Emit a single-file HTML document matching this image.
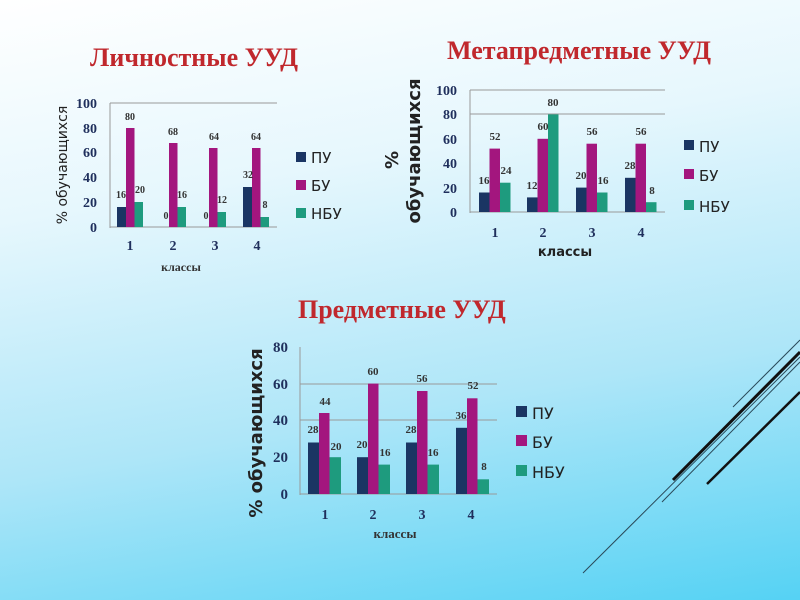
<!DOCTYPE html>
<html><head><meta charset="utf-8"><style>
html,body{margin:0;padding:0}
body{width:800px;height:600px;overflow:hidden;background:linear-gradient(170deg,#ffffff 0%,#e6f7fd 30%,#aee6f8 65%,#55d2f4 100%);}
svg{display:block}
.t{font-family:"Liberation Serif",serif;font-weight:bold;fill:#c0282d;font-size:26px}
.n{font-family:"Liberation Serif",serif;font-weight:bold;fill:#1f2f5c;font-size:14px}
.v{font-family:"Liberation Serif",serif;font-weight:bold;fill:#333;font-size:10px}
.l{font-family:"DejaVu Sans","Liberation Sans",sans-serif;fill:#222;font-size:15px}
.ax{font-family:"DejaVu Sans","Liberation Sans",sans-serif;font-weight:bold;fill:#222;font-size:14px}
</style></head><body>
<svg width="800" height="600" xmlns="http://www.w3.org/2000/svg">
<text class="t" x="90" y="66">Личностные УУД</text>
<text class="t" x="447" y="59">Метапредметные УУД</text>
<text class="t" x="298" y="318">Предметные УУД</text>

<!-- Chart 1 -->
<g>
<line x1="110" y1="103" x2="277" y2="103" stroke="#999" stroke-width="1"/>
<line x1="110" y1="103" x2="110" y2="228" stroke="#999"/>
<line x1="110" y1="227" x2="277" y2="227" stroke="#999"/>
<g class="n" text-anchor="end">
<text x="97" y="108">100</text><text x="97" y="133">80</text><text x="97" y="157">60</text><text x="97" y="182">40</text><text x="97" y="207">20</text><text x="97" y="232">0</text>
</g>
<rect x="117" y="207" width="9" height="20" fill="#1a3563"/><rect x="126" y="128" width="8.5" height="99" fill="#a3167e"/><rect x="134.5" y="202" width="8.5" height="25" fill="#1e9b7e"/>
<rect x="169" y="143" width="8.5" height="84" fill="#a3167e"/><rect x="177.5" y="207" width="8.5" height="20" fill="#1e9b7e"/>
<rect x="209" y="148" width="8.5" height="79" fill="#a3167e"/><rect x="217.5" y="212" width="8.5" height="15" fill="#1e9b7e"/>
<rect x="243" y="187" width="9" height="40" fill="#1a3563"/><rect x="252" y="148" width="8.5" height="79" fill="#a3167e"/><rect x="260.5" y="217" width="8.5" height="10" fill="#1e9b7e"/>
<g class="v" text-anchor="middle">
<text x="121" y="198">16</text><text x="130" y="120">80</text><text x="140" y="193">20</text>
<text x="166" y="219">0</text><text x="173" y="135">68</text><text x="182" y="198">16</text>
<text x="206" y="219">0</text><text x="214" y="140">64</text><text x="222" y="203">12</text>
<text x="248" y="178">32</text><text x="256" y="140">64</text><text x="265" y="208">8</text>
</g>
<g class="n" text-anchor="middle"><text x="130" y="250">1</text><text x="173" y="250">2</text><text x="215" y="250">3</text><text x="257" y="250">4</text></g>
<text x="181" y="271" text-anchor="middle" style="font-family:'Liberation Serif',serif;font-weight:bold;font-size:12px;fill:#333">классы</text>
<text class="ax" transform="translate(67,165) rotate(-90)" text-anchor="middle" style="font-size:14px;font-weight:normal">% обучающихся</text>
<rect x="296" y="152" width="10" height="10" fill="#1a3563"/><text class="l" x="311" y="163">ПУ</text>
<rect x="296" y="180" width="10" height="10" fill="#a3167e"/><text class="l" x="311" y="191">БУ</text>
<rect x="296" y="208" width="10" height="10" fill="#1e9b7e"/><text class="l" x="311" y="219">НБУ</text>
</g>

<!-- Chart 2 -->
<g>
<line x1="470" y1="90" x2="665" y2="90" stroke="#999"/>
<line x1="470" y1="114" x2="665" y2="114" stroke="#999"/>
<line x1="470" y1="90" x2="470" y2="213" stroke="#999"/>
<line x1="470" y1="212" x2="665" y2="212" stroke="#999"/>
<g class="n" text-anchor="end">
<text x="457" y="95">100</text><text x="457" y="119">80</text><text x="457" y="144">60</text><text x="457" y="168">40</text><text x="457" y="193">20</text><text x="457" y="217">0</text>
</g>
<rect x="479" y="192.5" width="10.5" height="19.5" fill="#1a3563"/><rect x="489.5" y="148.6" width="10.5" height="63.4" fill="#a3167e"/><rect x="500" y="182.7" width="10.5" height="29.3" fill="#1e9b7e"/>
<rect x="527" y="197.4" width="10.5" height="14.6" fill="#1a3563"/><rect x="537.5" y="138.8" width="10.5" height="73.2" fill="#a3167e"/><rect x="548" y="114.4" width="10.5" height="97.6" fill="#1e9b7e"/>
<rect x="576" y="187.6" width="10.5" height="24.4" fill="#1a3563"/><rect x="586.5" y="143.7" width="10.5" height="68.3" fill="#a3167e"/><rect x="597" y="192.5" width="10.5" height="19.5" fill="#1e9b7e"/>
<rect x="625" y="177.8" width="10.5" height="34.2" fill="#1a3563"/><rect x="635.5" y="143.7" width="10.5" height="68.3" fill="#a3167e"/><rect x="646" y="202.2" width="10.5" height="9.8" fill="#1e9b7e"/>
<g class="v" text-anchor="middle" style="font-size:11px">
<text x="484" y="184">16</text><text x="495" y="140">52</text><text x="506" y="174">24</text>
<text x="532" y="189">12</text><text x="543" y="130">60</text><text x="553" y="106">80</text>
<text x="581" y="179">20</text><text x="592" y="135">56</text><text x="603" y="184">16</text>
<text x="630" y="169">28</text><text x="641" y="135">56</text><text x="652" y="194">8</text>
</g>
<g class="n" text-anchor="middle"><text x="495" y="237">1</text><text x="543" y="237">2</text><text x="592" y="237">3</text><text x="641" y="237">4</text></g>
<text class="ax" x="565" y="256" text-anchor="middle" style="font-size:13px">классы</text>
<text class="ax" transform="translate(398,160) rotate(-90)" text-anchor="middle" style="font-size:18px">%</text>
<text class="ax" transform="translate(420,151) rotate(-90)" text-anchor="middle" style="font-size:18px">обучающихся</text>
<rect x="684" y="140" width="10" height="10" fill="#1a3563"/><text class="l" x="699" y="152">ПУ</text>
<rect x="684" y="169" width="10" height="10" fill="#a3167e"/><text class="l" x="699" y="181">БУ</text>
<rect x="684" y="200" width="10" height="10" fill="#1e9b7e"/><text class="l" x="699" y="212">НБУ</text>
</g>

<!-- Chart 3 -->
<g>
<line x1="300" y1="384" x2="497" y2="384" stroke="#999"/>
<line x1="300" y1="420" x2="497" y2="420" stroke="#999"/>
<line x1="300" y1="347" x2="300" y2="495" stroke="#999"/>
<line x1="300" y1="494" x2="497" y2="494" stroke="#999"/>
<g class="n" text-anchor="end" style="font-size:15px">
<text x="288" y="352">80</text><text x="288" y="389">60</text><text x="288" y="425">40</text><text x="288" y="462">20</text><text x="288" y="499">0</text>
</g>
<rect x="308" y="442.5" width="11" height="51.5" fill="#1a3563"/><rect x="319" y="413" width="10.5" height="81" fill="#a3167e"/><rect x="329.5" y="457.2" width="11.5" height="36.8" fill="#1e9b7e"/>
<rect x="357" y="457.2" width="11" height="36.8" fill="#1a3563"/><rect x="368" y="383.6" width="10.5" height="110.4" fill="#a3167e"/><rect x="378.5" y="464.6" width="11.5" height="29.4" fill="#1e9b7e"/>
<rect x="406" y="442.5" width="11" height="51.5" fill="#1a3563"/><rect x="417" y="391" width="10.5" height="103" fill="#a3167e"/><rect x="427.5" y="464.6" width="11.5" height="29.4" fill="#1e9b7e"/>
<rect x="456" y="427.8" width="11" height="66.2" fill="#1a3563"/><rect x="467" y="398.3" width="10.5" height="95.7" fill="#a3167e"/><rect x="477.5" y="479.3" width="11.5" height="14.7" fill="#1e9b7e"/>
<g class="v" text-anchor="middle" style="font-size:11px">
<text x="313" y="433">28</text><text x="325" y="405">44</text><text x="336" y="450">20</text>
<text x="362" y="448">20</text><text x="373" y="375">60</text><text x="385" y="456">16</text>
<text x="411" y="433">28</text><text x="422" y="382">56</text><text x="433" y="456">16</text>
<text x="461" y="419">36</text><text x="473" y="389">52</text><text x="484" y="470">8</text>
</g>
<g class="n" text-anchor="middle"><text x="325" y="519">1</text><text x="373" y="519">2</text><text x="422" y="519">3</text><text x="471" y="519">4</text></g>
<text x="395" y="538" text-anchor="middle" style="font-family:'Liberation Serif',serif;font-weight:bold;font-size:13px;fill:#333">классы</text>
<text class="ax" transform="translate(262,433) rotate(-90)" text-anchor="middle" style="font-size:18px">% обучающихся</text>
<rect x="516" y="406" width="11" height="11" fill="#1a3563"/><text class="l" x="532" y="419" style="font-size:16px">ПУ</text>
<rect x="516" y="435" width="11" height="11" fill="#a3167e"/><text class="l" x="532" y="448" style="font-size:16px">БУ</text>
<rect x="516" y="465" width="11" height="11" fill="#1e9b7e"/><text class="l" x="532" y="478" style="font-size:16px">НБУ</text>
</g>

<line x1="800" y1="340" x2="733" y2="407" stroke="#2a4a5a" stroke-width="1"/>
<line x1="800" y1="352" x2="673" y2="480" stroke="#111" stroke-width="3"/>
<line x1="800" y1="362" x2="662" y2="502" stroke="#2a4a5a" stroke-width="1"/>
<line x1="800" y1="357" x2="583" y2="573" stroke="#2a4a5a" stroke-width="1"/>
<line x1="800" y1="392" x2="707" y2="484" stroke="#111" stroke-width="2.5"/>
</svg>
</body></html>
